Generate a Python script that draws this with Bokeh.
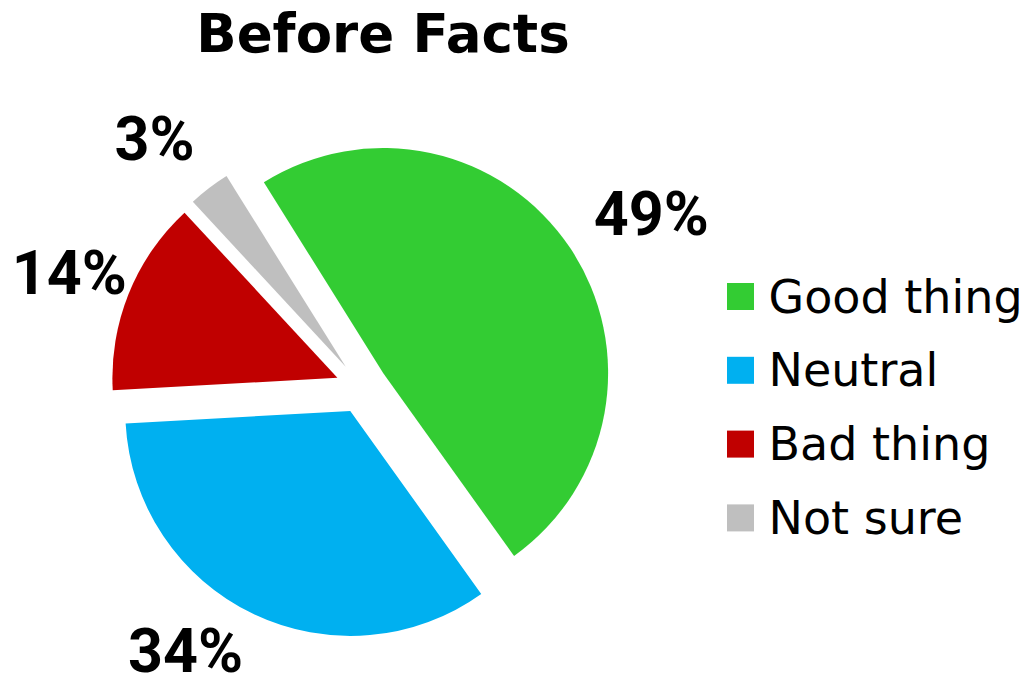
import math
from bokeh.plotting import figure
from bokeh.models import Range1d, ColumnDataSource, Label
from bokeh.core.properties import value
from bokeh.embed import file_html
from bokeh.resources import INLINE

# ---- data ----
title_text = "Before Facts"
categories = ["Good thing", "Neutral", "Bad thing", "Not sure"]
values = [49, 34, 14, 3]
colors = ["#33CC33", "#00B0F0", "#C00000", "#BFBFBF"]

# ---- layout (pixels, y measured from top of page) ----
W, H = 1033, 691
CX, CY = 361, 387          # pie centre
R = 225                    # pie radius
EXPLODE = 26               # explode distance
START_CW = -32.0           # first slice starts 32 deg left of 12 o'clock, clockwise
LABEL_DIST = 300
label_nudge = [(19, 10), (-35, -28), (10, 10), (-9, 12)]

def ty(y_px):
    return H - y_px

p = figure(width=W, height=H, x_range=Range1d(0, W), y_range=Range1d(0, H),
           x_axis_type=None, y_axis_type=None, toolbar_location=None,
           output_backend="svg", min_border=0, outline_line_color=None,
           background_fill_color="white", border_fill_color="white")
p.grid.visible = False

total = float(sum(values))
xs, ys, starts, ends, lx, ly, ltxt = [], [], [], [], [], [], []
cum = 0.0
for i, v in enumerate(values):
    a0 = START_CW + 360.0 * cum / total
    cum += v
    a1 = START_CW + 360.0 * cum / total
    mid = math.radians((a0 + a1) / 2.0)
    dxs, dys = math.sin(mid), -math.cos(mid)  # screen direction
    ax_px = CX + EXPLODE * dxs
    ay_px = CY + EXPLODE * dys
    xs.append(ax_px)
    ys.append(ty(ay_px))
    starts.append(math.radians(90.0 - a1))
    ends.append(math.radians(90.0 - a0))
    lx.append(ax_px + LABEL_DIST * dxs + label_nudge[i][0])
    ly.append(ty(ay_px + LABEL_DIST * dys + label_nudge[i][1] - 2))
    ltxt.append(f"{v}%")

src = ColumnDataSource(dict(x=xs, y=ys, start=starts, end=ends, color=colors,
                            cat=categories))
p.wedge(x="x", y="y", radius=R, start_angle="start", end_angle="end",
        direction="anticlock", fill_color="color", line_color=None, source=src)

# percentage labels
p.text(x=lx, y=ly, text=ltxt, text_align="center", text_baseline="alphabetic",
       text_font=value("Roboto"), text_font_style="bold",
       text_font_size="61px", text_color="black")

# legend
LEG_X, LEG_Y0, LEG_DY, SQ = 740, 296, 73.8, 27
leg_y = [ty(LEG_Y0 + i * LEG_DY) for i in range(len(categories))]
p.rect(x=[LEG_X] * len(categories), y=leg_y, width=SQ, height=SQ,
       fill_color=colors, line_color=None)
p.text(x=[768] * len(categories), y=leg_y, text=categories,
       text_align="left", text_baseline="alphabetic",
       text_font=value("DejaVu Sans"), text_font_size="46px", text_color="black")

# title
p.add_layout(Label(x=382.5, y=ty(33), text=title_text, text_align="center",
                   text_baseline="alphabetic", text_font="DejaVu Sans",
                   text_font_style="bold", text_font_size="53px",
                   text_color="black"))

open("out.html", "w").write(file_html(p, INLINE))
